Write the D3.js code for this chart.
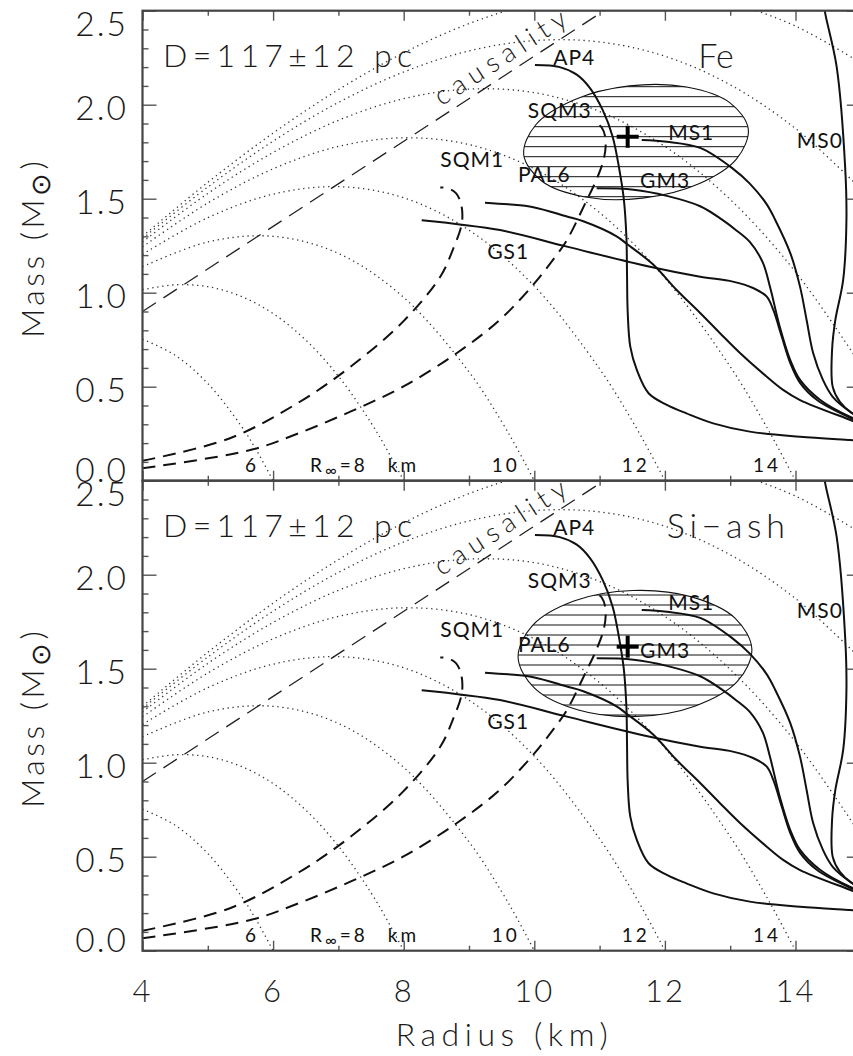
<!DOCTYPE html>
<html>
<head>
<meta charset="utf-8">
<script src="https://cdn.jsdelivr.net/npm/d3@7"></script>
<style>
  html, body { margin: 0; padding: 0; background: #fff; }
  svg text { font-family: Lato, "Open Sans", "DejaVu Sans", sans-serif; font-weight: 300; fill: #1a1a1a; }
  svg text.small { font-weight: 400; fill: #111; }
</style>
</head>
<body>
<svg id="chart" width="853" height="1056"></svg>
<script>
// ---------------- data (radius in km, mass in solar masses) ----------------
const xTicks = [4, 6, 8, 10, 12, 14];
const xMinorTicks = [5, 7, 9, 11, 13, 15];
const yTicks = [0, 0.5, 1.0, 1.5, 2.0, 2.5];
const yTickLabels = ["0.0", "0.5", "1.0", "1.5", "2.0", "2.5"];

// lines of constant apparent radius R_inf
const rinf6  = [[4,0.753],[4.5,0.667],[5,0.517],[5.5,0.297],[5.75,0.159],[6,0]];
const rinf8  = [[4,1.016],[4.5,1.042],[5,1.032],[5.5,0.982],[6,0.889],[6.5,0.748],[7,0.556],[7.5,0.308],[7.75,0.161],[8,0]];
const rinf10 = [[4,1.138],[5,1.270],[6,1.300],[7,1.209],[8,0.975],[9,0.579],[9.5,0.314],[9.75,0.163],[10,0]];
const rinf12 = [[4,1.204],[5,1.399],[6,1.524],[7,1.564],[8,1.505],[9,1.333],[10,1.035],[11,0.595],[11.5,0.318],[11.75,0.164],[12,0]];
const rinf14 = [[4,1.244],[5,1.477],[6,1.659],[7,1.778],[8,1.824],[9,1.788],[10,1.659],[11,1.426],[12,1.078],[13,0.607],[13.5,0.321],[13.75,0.165],[14,0]];
const rinf16 = [[4,1.270],[5,1.528],[6,1.746],[7,1.917],[8,2.032],[9,2.083],[10,2.064],[11,1.964],[12,1.778],[13,1.496],[14,1.111],[15,0.615]];
const rinf18 = [[4,1.288],[5,1.562],[6,1.806],[7,2.012],[8,2.174],[9,2.286],[10,2.341],[11,2.334],[12,2.258],[13,2.106],[14,1.873],[15,1.552]];
const rinf20 = [[4,1.300],[5,1.587],[6,1.849],[7,2.080],[8,2.276],[9,2.431],[10,2.540],[11,2.598],[12,2.601],[13,2.542],[14,2.418],[15,2.222]];

const causality = [[4, 0.90], [11.2, 2.53]];

// strange quark matter sequences
const sqm1 = [[4.0,0.106],[5.34,0.226],[6.41,0.42],[7.2,0.61],[7.99,0.846],[8.56,1.085],[8.75,1.227],[8.89,1.369],[8.88,1.47],[8.80,1.53],[8.68,1.555],[8.56,1.56]];
const sqm3 = [[4.0,0.066],[5.65,0.163],[6.41,0.255],[7.2,0.37],[7.99,0.50],[8.81,0.678],[9.47,0.855],[9.98,1.041],[10.34,1.2],[10.5,1.28],[10.8,1.49],[10.95,1.60],[11.07,1.72],[11.09,1.82],[11.03,1.88],[10.92,1.91]];

// normal-matter equations of state
const ap4  = [[10.01,2.211],[10.39,2.20],[10.65,2.16],[10.85,2.09],[11.05,1.97],[11.2,1.83],[11.3,1.66],[11.37,1.50],[11.41,1.30],[11.42,1.10],[11.43,0.90],[11.47,0.713],[11.57,0.589],[11.75,0.465],[12.03,0.403],[12.33,0.358],[12.74,0.305],[13.30,0.261],[14.07,0.234],[14.84,0.216],[15.0,0.212]];
const ms1  = [[11.645,1.812],[12.03,1.803],[12.54,1.77],[13.04,1.66],[13.3,1.58],[13.56,1.47],[13.69,1.387],[13.92,1.211],[14.07,1.031],[14.17,0.855],[14.27,0.679],[14.42,0.536],[14.57,0.446],[14.84,0.366],[15.0,0.334]];
const ms0  = [[14.40,2.62],[14.45,2.495],[14.63,2.202],[14.76,1.67],[14.78,1.387],[14.73,1.068],[14.61,0.855],[14.56,0.695],[14.57,0.499],[14.68,0.419],[14.86,0.360],[15.0,0.334]];
const gm3  = [[10.955,1.555],[11.52,1.548],[12.03,1.515],[12.54,1.46],[12.87,1.39],[13.1,1.33],[13.3,1.27],[13.5,1.16],[13.61,1.03],[13.76,0.818],[13.92,0.642],[14.07,0.536],[14.38,0.429],[14.84,0.339],[15.0,0.318]];
const pal6 = [[9.245,1.479],[9.6,1.47],[9.985,1.455],[10.5,1.405],[10.75,1.38],[11.26,1.30],[11.415,1.26],[11.82,1.15],[12.18,1.014],[12.54,0.892],[12.84,0.786],[13.15,0.679],[13.56,0.553],[13.81,0.483],[14.07,0.429],[14.84,0.323],[15.0,0.301]];
const gs1  = [[8.276,1.386],[9.475,1.333],[10.5,1.245],[11.77,1.138],[12.54,1.085],[13.04,1.059],[13.35,1.025],[13.56,0.979],[13.66,0.908],[13.79,0.766],[13.92,0.626],[14.07,0.520],[14.33,0.429],[14.84,0.334],[15.0,0.312]];

// confidence contours and best fits for the two atmosphere compositions
const panelNames = ["Fe", "Si\u2212ash"];
const feContour = [[13.277,1.870],[13.095,1.711],[12.502,1.577],[11.655,1.503],[10.783,1.509],[10.118,1.593],[9.838,1.734],[10.020,1.892],[10.613,2.026],[11.459,2.100],[12.332,2.094],[12.997,2.010]];
const siAshContour = [[13.332,1.603],[13.110,1.432],[12.467,1.302],[11.576,1.246],[10.675,1.280],[10.008,1.395],[9.752,1.560],[9.974,1.730],[10.617,1.861],[11.508,1.916],[12.409,1.882],[13.077,1.768]];
const feBest = [11.43, 1.83];
const siAshBest = [11.43, 1.617];

const curveNames = ["AP4", "SQM3", "MS1", "MS0", "SQM1", "PAL6", "GM3", "GS1"];
const rinfNames = ["6", "8", "10", "12", "14"];

// ---------------- layout ----------------
const plotLeft = 142.5, plotRight = 860.8, panelH = 470;
const panelTops = [10.7, 480.7];
const contours = [feContour, siAshContour];
const bests = [feBest, siAshBest];
const hatchPhase = [6, 4.3];
// label anchors in data units (left end of baseline)
const curveLabelAt = {AP4:[10.29,2.211], SQM3:[9.90,1.929], MS1:[12.05,1.812], MS0:[14.02,1.770],
                      SQM1:[8.56,1.669], PAL6:[9.75,1.589], GM3:[11.62,1.557], GS1:[9.28,1.179]};
const rinfLabelAt = {"6":[5.57,0.048], "8":[6.565,0.048], "10":[9.35,0.048], "12":[11.34,0.048], "14":[13.35,0.048]};
const panelLabelAt = [[12.51,2.195],[12.03,2.195]];
const distLabelAt = [4.314, 2.202];
const causalityLabelAt = [8.58, 1.99];

const rinfCurves = [rinf6, rinf8, rinf10, rinf12, rinf14, rinf16, rinf18, rinf20];
const eosCurves = [ap4, ms1, ms0, gm3, pal6, gs1];
const sqmCurves = [sqm1, sqm3];

const svg = d3.select("#chart");
const defs = svg.append("defs");
const x = d3.scaleLinear().domain([4, 15]).range([plotLeft, plotRight]);

const yMinorTicks = d3.range(0, 26).map(k => k / 10).filter(v => Math.round(v * 10) % 5 !== 0);

function styleAxis(sel) {
  sel.select(".domain").remove();
  sel.selectAll("text").remove();
  sel.selectAll("line").attr("stroke", "#555").attr("stroke-width", 1.4);
}

panelNames.forEach((name, i) => {
  const top = panelTops[i], bottom = top + panelH;
  const y = d3.scaleLinear().domain([0, 2.5]).range([bottom, top]);
  const g = svg.append("g");

  const clipId = "plot-clip-" + i;
  defs.append("clipPath").attr("id", clipId).append("rect")
    .attr("x", plotLeft).attr("y", top).attr("width", plotRight - plotLeft).attr("height", panelH);
  const plot = g.append("g").attr("clip-path", `url(#${clipId})`);

  const line = d3.line().x(d => x(d[0])).y(d => y(d[1])).curve(d3.curveCatmullRom.alpha(0.5));
  const straight = d3.line().x(d => x(d[0])).y(d => y(d[1]));

  // apparent-radius curves
  rinfCurves.forEach(c => {
    plot.append("path").attr("d", line(c)).attr("fill", "none")
      .attr("stroke", "#333").attr("stroke-width", 1.3).attr("stroke-dasharray", "1.3,3.7");
  });

  // causality limit
  plot.append("path").attr("d", straight(causality)).attr("fill", "none")
    .attr("stroke", "#222").attr("stroke-width", 1.3).attr("stroke-dasharray", "16,9");

  // strange stars
  sqmCurves.forEach(c => {
    plot.append("path").attr("d", line(c)).attr("fill", "none")
      .attr("stroke", "#111").attr("stroke-width", 2).attr("stroke-dasharray", "13,8");
  });

  // neutron-star EOS
  eosCurves.forEach(c => {
    plot.append("path").attr("d", line(c)).attr("fill", "none")
      .attr("stroke", "#111").attr("stroke-width", 2);
  });

  // hatched confidence region
  const closed = d3.line().x(d => x(d[0])).y(d => y(d[1])).curve(d3.curveCatmullRomClosed.alpha(0.5));
  const ellD = closed(contours[i]);
  const ecId = "region-clip-" + i;
  defs.append("clipPath").attr("id", ecId).append("path").attr("d", ellD);
  const hatch = plot.append("g").attr("clip-path", `url(#${ecId})`);
  const xs = contours[i].map(d => x(d[0]));
  const hx0 = d3.min(xs) - 10, hx1 = d3.max(xs) + 10;
  d3.range(top + hatchPhase[i], bottom, 10).forEach(yy => {
    hatch.append("line").attr("x1", hx0).attr("x2", hx1).attr("y1", yy).attr("y2", yy)
      .attr("stroke", "#111").attr("stroke-width", 1);
  });
  plot.append("path").attr("d", ellD).attr("fill", "none").attr("stroke", "#111").attr("stroke-width", 1.1);

  // best fit
  const bx = x(bests[i][0]), by = y(bests[i][1]);
  plot.append("line").attr("x1", bx - 11).attr("x2", bx + 11).attr("y1", by).attr("y2", by)
    .attr("stroke", "#000").attr("stroke-width", 4);
  plot.append("line").attr("x1", bx).attr("x2", bx).attr("y1", by - 11).attr("y2", by + 11)
    .attr("stroke", "#000").attr("stroke-width", 4);

  // ticks on all four sides
  g.append("g").attr("transform", `translate(${plotLeft},0)`)
    .call(d3.axisRight(y).tickValues(yTicks).tickSize(14)).call(styleAxis);
  g.append("g").attr("transform", `translate(${plotLeft},0)`)
    .call(d3.axisRight(y).tickValues(yMinorTicks).tickSize(6)).call(styleAxis);
  g.append("g").attr("transform", `translate(${plotRight},0)`)
    .call(d3.axisLeft(y).tickValues(yTicks).tickSize(14)).call(styleAxis);
  g.append("g").attr("transform", `translate(${plotRight},0)`)
    .call(d3.axisLeft(y).tickValues(yMinorTicks).tickSize(6)).call(styleAxis);
  g.append("g").attr("transform", `translate(0,${top})`)
    .call(d3.axisBottom(x).tickValues(xTicks).tickSize(10)).call(styleAxis);
  g.append("g").attr("transform", `translate(0,${top})`)
    .call(d3.axisBottom(x).tickValues(xMinorTicks).tickSize(5)).call(styleAxis);
  g.append("g").attr("transform", `translate(0,${bottom})`)
    .call(d3.axisTop(x).tickValues(xTicks).tickSize(10)).call(styleAxis);
  g.append("g").attr("transform", `translate(0,${bottom})`)
    .call(d3.axisTop(x).tickValues(xMinorTicks).tickSize(5)).call(styleAxis);

  g.append("rect").attr("x", plotLeft).attr("y", top).attr("width", plotRight - plotLeft).attr("height", panelH)
    .attr("fill", "none").attr("stroke", "#444").attr("stroke-width", 2.2);

  // y tick labels
  yTicks.forEach((v, k) => {
    const off = k === 0 ? 1 : (k === yTicks.length - 1 ? 25.5 : 15);
    g.append("text").attr("x", 128).attr("y", y(v) + off).attr("text-anchor", "end")
      .attr("font-size", 33.5).attr("letter-spacing", 2).text(yTickLabels[k]);
  });

  // y title
  const yt = g.append("text")
    .attr("transform", `translate(43.5,${(top + bottom) / 2 + 2}) rotate(-90)`)
    .attr("text-anchor", "middle").attr("font-size", 32).attr("letter-spacing", 3.5);
  yt.append("tspan").text("Mass (M");
  yt.append("tspan").attr("dy", 6).attr("font-size", 27).attr("font-family", "DejaVu Sans").attr("font-weight", 200).text("\u2299");
  yt.append("tspan").attr("dy", -6).text(")");

  // distance label
  g.append("text").attr("x", x(distLabelAt[0])).attr("y", y(distLabelAt[1]))
    .attr("font-size", 32).attr("textLength", 249).attr("lengthAdjust", "spacing")
    .text("D=117\u00b112 pc");

  // atmosphere label
  const pl = g.append("text").attr("x", x(panelLabelAt[i][0])).attr("y", y(panelLabelAt[i][1]))
    .attr("font-size", 34).text(name);
  if (i === 1) pl.attr("textLength", 118).attr("lengthAdjust", "spacing");

  // causality label
  const cx = x(causalityLabelAt[0]), cy = y(causalityLabelAt[1]);
  const ang = -Math.atan2(y(causality[0][1]) - y(causality[1][1]), x(causality[1][0]) - x(causality[0][0])) * 180 / Math.PI;
  g.append("text").attr("transform", `translate(${cx},${cy}) rotate(${ang})`)
    .attr("font-size", 27).attr("textLength", 152).attr("lengthAdjust", "spacing").text("causality");

  // curve labels
  curveNames.forEach(n => {
    g.append("text").attr("class", "small").attr("x", x(curveLabelAt[n][0])).attr("y", y(curveLabelAt[n][1]))
      .attr("font-size", 21).attr("letter-spacing", 1).text(n);
  });

  // R_inf labels
  rinfNames.forEach(n => {
    const t = g.append("text").attr("class", "small").attr("x", x(rinfLabelAt[n][0])).attr("y", y(rinfLabelAt[n][1]))
      .attr("font-size", 19).attr("letter-spacing", 3);
    if (n === "8") {
      t.append("tspan").text("R");
      t.append("tspan").attr("dy", 4).attr("font-size", 16).text("\u221e");
      t.append("tspan").attr("dy", -4).text("=8");
      t.append("tspan").attr("dx", 20).text("km");
    } else {
      t.text(n);
    }
  });

  // x tick labels and title under the lower panel
  if (i === panelNames.length - 1) {
    xTicks.forEach(v => {
      g.append("text").attr("x", x(v)).attr("y", bottom + 51).attr("text-anchor", "middle")
        .attr("font-size", 31).attr("letter-spacing", 2).text(v);
    });
    g.append("text").attr("x", (plotLeft + plotRight) / 2).attr("y", bottom + 95.3)
      .attr("text-anchor", "middle").attr("font-size", 32)
      .attr("textLength", 212).attr("lengthAdjust", "spacing").text("Radius (km)");
  }
});
</script>
</body>
</html>
